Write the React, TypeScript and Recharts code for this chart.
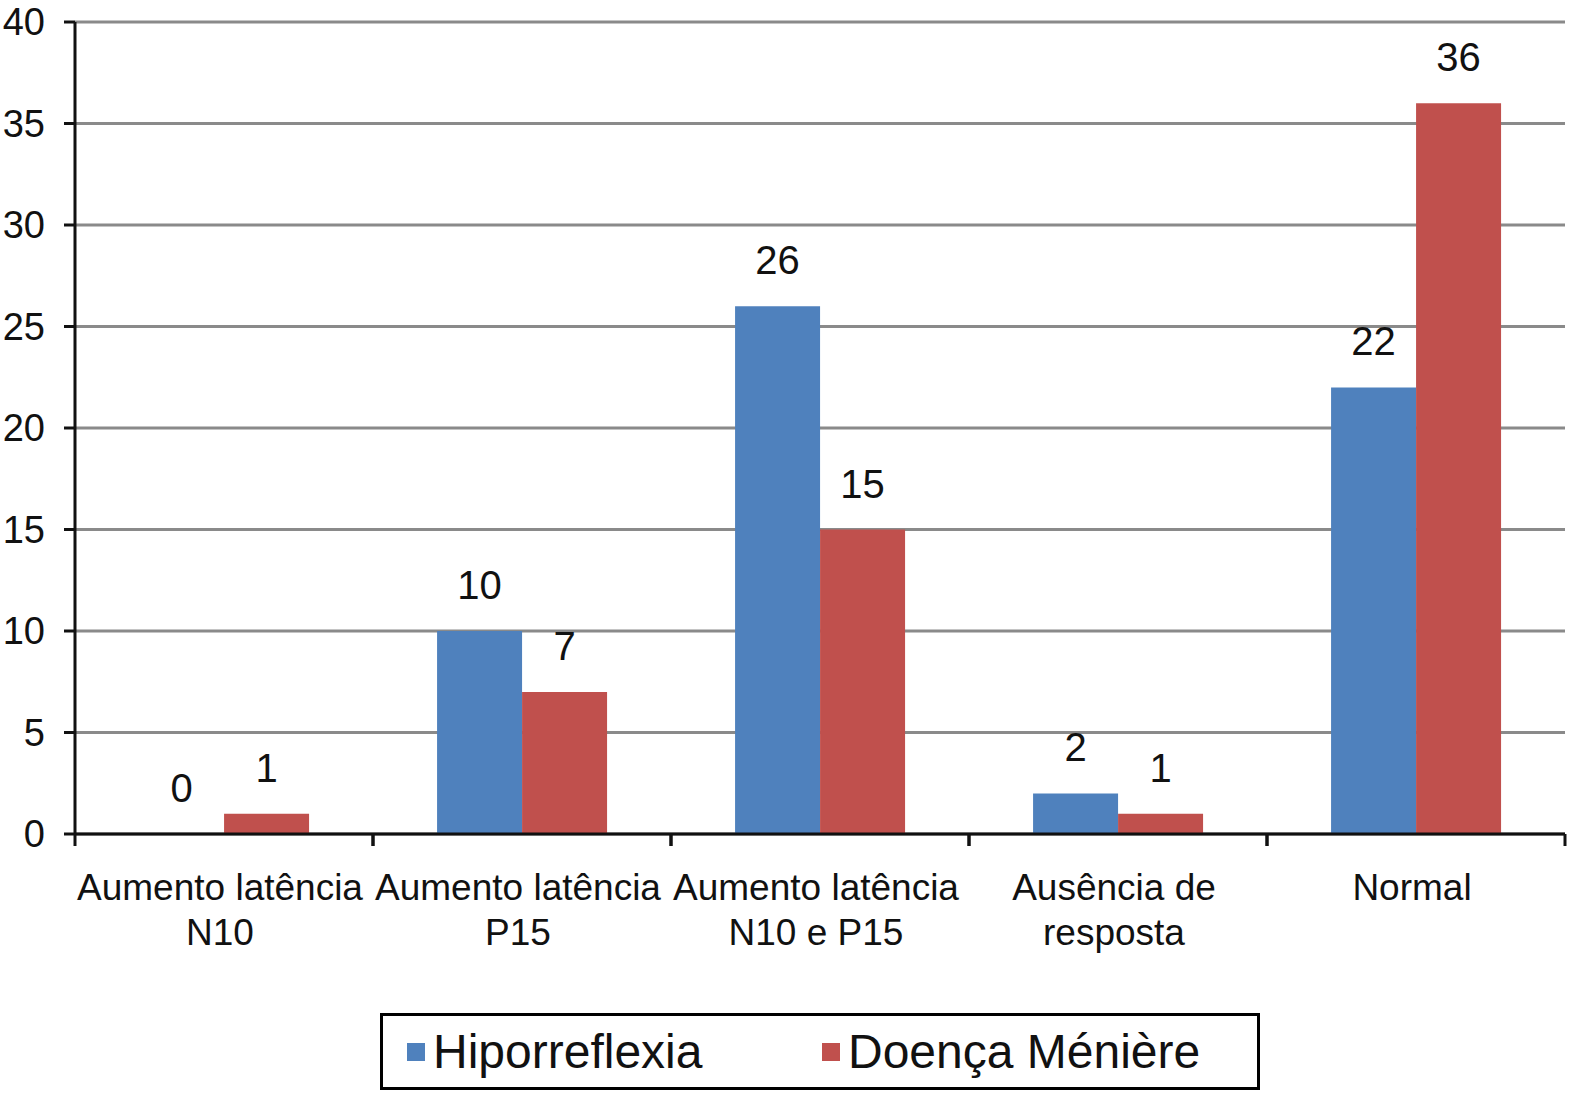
import { BarChart, Bar, XAxis, YAxis, CartesianGrid, Legend, LabelList } from 'recharts';

const categories = [
  'Aumento latência\nN10',
  'Aumento latência\nP15',
  'Aumento latência\nN10 e P15',
  'Ausência de\nresposta',
  'Normal',
];
const seriesNames = ['Hiporreflexia', 'Doença Ménière'];
const hiporreflexia = [0, 10, 26, 2, 22];
const doencaMeniere = [1, 7, 15, 1, 36];
const yTicks = [0, 5, 10, 15, 20, 25, 30, 35, 40];

const data = categories.map((name, i) => ({
  name,
  hip: hiporreflexia[i],
  men: doencaMeniere[i],
}));

const FONT = '"Liberation Sans", Arial, Helvetica, sans-serif';

const CategoryTick = (props: any) => {
  const { x, y, payload } = props;
  const lines = String(payload.value).split('\n');
  const half = payload.offset || 0;
  return (
    <g>
      <line x1={x - half} x2={x - half} y1={y} y2={y + 12} stroke="#111" strokeWidth={3} />
      <line x1={x + half} x2={x + half} y1={y} y2={y + 12} stroke="#111" strokeWidth={3} />
      <text x={x - 4} y={y} textAnchor="middle" fontSize={37} fill="#111" fontFamily={FONT}>
        {lines.map((l, i) => (
          <tspan key={i} x={x - 4} dy={i === 0 ? 66 : 45}>
            {l}
          </tspan>
        ))}
      </text>
    </g>
  );
};

const ValueLabel = (props: any) => {
  const { x, y, width, value } = props;
  return (
    <text x={x + width / 2} y={y - 32} textAnchor="middle" fontSize={40} fill="#111" fontFamily={FONT}>
      {value}
    </text>
  );
};

const LegendBox = (props: any) => {
  const items = [...(props.payload || [])].sort(
    (a: any, b: any) => seriesNames.indexOf(a.value) - seriesNames.indexOf(b.value)
  );
  return (
    <div
      style={{
        boxSizing: 'border-box',
        width: 880,
        height: 77,
        border: '3px solid #000',
        display: 'flex',
        alignItems: 'center',
        paddingLeft: 24,
        fontFamily: FONT,
        fontSize: 48,
        lineHeight: '60px',
        color: '#111',
        background: '#fff',
      }}
    >
      {items.map((it: any, i: number) => (
        <div key={i} style={{ display: 'flex', alignItems: 'center', width: i === 0 ? 415 : 'auto' }}>
          <span style={{ display: 'inline-block', width: 18, height: 18, background: it.color, marginRight: 8 }} />
          <span>{it.value}</span>
        </div>
      ))}
    </div>
  );
};

export default function App() {
  return (
    <div style={{ width: 1583, height: 1103, background: '#fff', overflow: 'hidden' }}>
      <style>{'html,body{margin:0;padding:0;overflow:hidden}'}</style>
      <BarChart
        width={1583}
        height={1103}
        data={data}
        margin={{ top: 22, right: 18, left: 0, bottom: 13 }}
        barCategoryGap="21.5%"
        barGap={0}
      >
        <CartesianGrid horizontal vertical={false} stroke="#8a8a8a" strokeWidth={3} />
        <XAxis
          dataKey="name"
          height={179}
          interval={0}
          axisLine={{ stroke: '#111', strokeWidth: 3 }}
          tickLine={false}
          tickSize={0}
          tickMargin={0}
          tick={<CategoryTick />}
        />
        <YAxis
          domain={[0, 40]}
          ticks={yTicks}
          width={75}
          tickSize={11}
          tickMargin={19}
          axisLine={{ stroke: '#111', strokeWidth: 3 }}
          tickLine={{ stroke: '#111', strokeWidth: 3 }}
          tick={{ fill: '#111', fontSize: 38, fontFamily: FONT }}
        />
        <Legend
          verticalAlign="bottom"
          content={<LegendBox />}
          wrapperStyle={{ left: 380, width: 880 }}
        />
        <Bar dataKey="hip" name={seriesNames[0]} fill="#4F81BD" minPointSize={0.01} isAnimationActive={false}>
          <LabelList dataKey="hip" content={<ValueLabel />} />
        </Bar>
        <Bar dataKey="men" name={seriesNames[1]} fill="#C0504D" minPointSize={0.01} isAnimationActive={false}>
          <LabelList dataKey="men" content={<ValueLabel />} />
        </Bar>
      </BarChart>
    </div>
  );
}
